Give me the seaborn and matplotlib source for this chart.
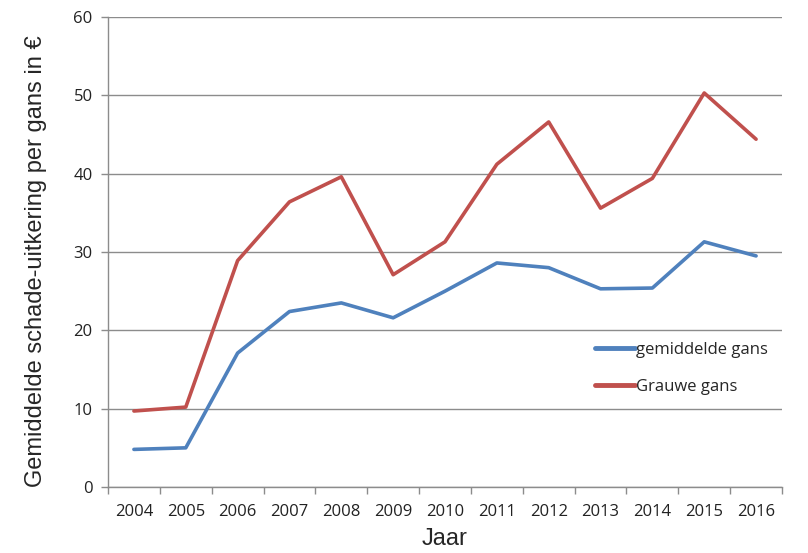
import matplotlib
matplotlib.use("Agg")
import matplotlib.pyplot as plt
import numpy as np
import pandas as pd
import seaborn as sns

YEARS = ["2004", "2005", "2006", "2007", "2008", "2009", "2010",
         "2011", "2012", "2013", "2014", "2015", "2016"]
GEMIDDELD = [4.8, 5.0, 17.1, 22.4, 23.5, 21.6, 25.0, 28.6, 28.0, 25.3, 25.4, 31.3, 29.5]
GRAUWE = [9.7, 10.2, 28.9, 36.4, 39.6, 27.1, 31.3, 41.2, 46.6, 35.6, 39.4, 50.3, 44.4]
SERIES = ["gemiddelde gans", "Grauwe gans"]
COLORS = ["#4F81BD", "#C0504D"]

sns.set_theme(style="white")
plt.rcParams["font.family"] = ["Liberation Sans", "DejaVu Sans"]

df = pd.DataFrame({
    "pos": list(range(len(YEARS))) * 2,
    "waarde": GEMIDDELD + GRAUWE,
    "reeks": [SERIES[0]] * len(YEARS) + [SERIES[1]] * len(YEARS),
})

fig = plt.figure(figsize=(8.08, 5.53), dpi=100)
ax = fig.add_axes([108 / 808, 66 / 553, 674 / 808, 470 / 553])

sns.lineplot(data=df, x="pos", y="waarde", hue="reeks", palette=COLORS,
             linewidth=2.6, ax=ax, legend=True)

ax.set_xlim(-0.5, len(YEARS) - 0.5)
ax.set_ylim(0, 60)
ax.set_yticks(range(0, 61, 10))
ax.yaxis.grid(True, color="#8c8c8c", linewidth=1)
ax.set_axisbelow(True)

ax.set_xticks(range(len(YEARS)))
ax.set_xticklabels(YEARS)
ax.set_xticks(np.arange(-0.5, len(YEARS), 1), minor=True)
ax.tick_params(axis="x", which="major", length=0, pad=12, labelsize=12,
               labelcolor="#222222")
ax.tick_params(axis="x", which="minor", length=5, width=1, color="#8c8c8c",
               direction="out", bottom=True)
ax.tick_params(axis="y", length=5, width=1, color="#8c8c8c", direction="out",
               left=True, labelsize=12, labelcolor="#222222", pad=6)
for lab in ax.get_xticklabels() + ax.get_yticklabels():
    lab.set_family(["Open Sans", "DejaVu Sans"])

for side in ["top", "right"]:
    ax.spines[side].set_visible(False)
for side in ["left", "bottom"]:
    ax.spines[side].set_color("#8c8c8c")
    ax.spines[side].set_linewidth(1)

ax.set_xlabel("Jaar", fontsize=17, labelpad=6)
ax.set_ylabel("Gemiddelde schade-uitkering per gans in €", fontsize=17)
ax.yaxis.set_label_coords(-0.091, 0.48)

leg = ax.legend(loc="upper left", bbox_to_anchor=(0.70, 0.34), frameon=False,
                handlelength=2.4, handletextpad=0.1, labelspacing=1.25,
                prop={"family": ["Open Sans", "DejaVu Sans"], "size": 12})
for line in leg.get_lines():
    line.set_linewidth(3.5)

fig.savefig("out.png", dpi=100)
